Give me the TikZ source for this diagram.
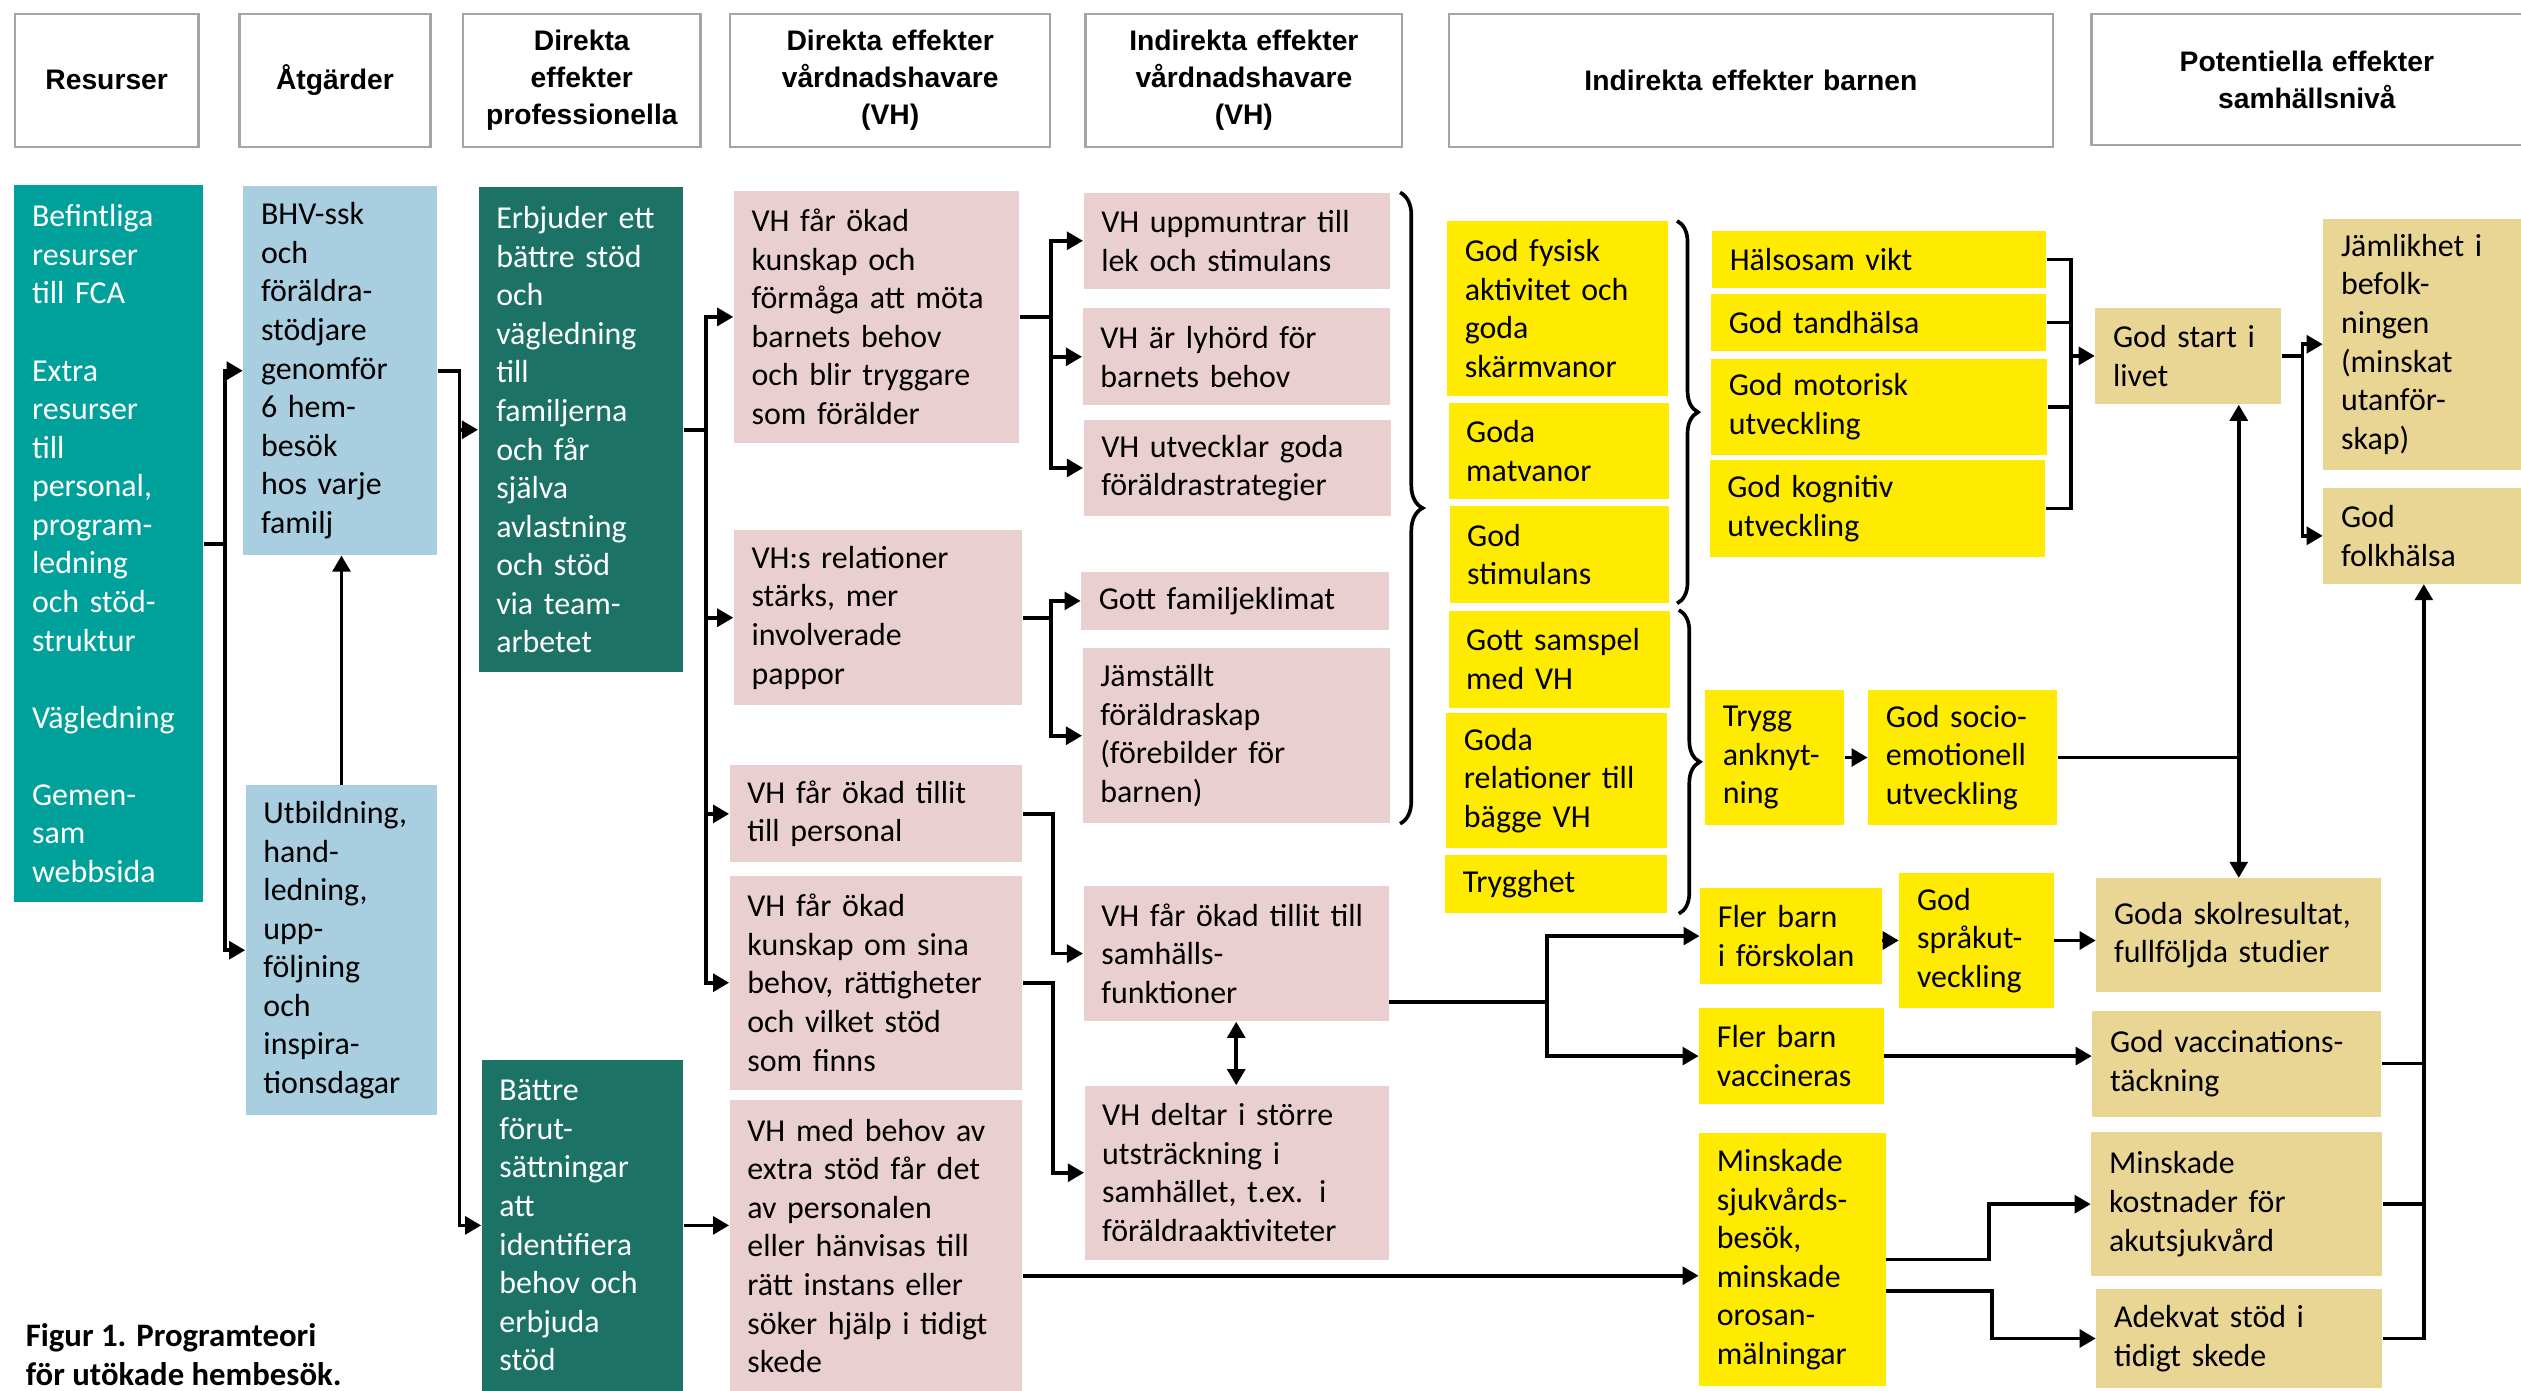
\documentclass[tikz,border=0pt]{standalone}
\usepackage{fontspec}
\setmainfont{Carlito}
\newfontfamily\headfont{Liberation Sans}
\usetikzlibrary{arrows.meta,decorations.pathreplacing}
\definecolor{lagoon}{RGB}{0,161,154}
\definecolor{sky}{RGB}{169,206,224}
\definecolor{pine}{RGB}{27,114,101}
\definecolor{blush}{RGB}{234,207,208}
\definecolor{lemon}{RGB}{255,235,0}
\definecolor{sand}{RGB}{234,214,148}
\definecolor{frame}{RGB}{165,165,165}
\newcommand\bodyfont{\fontsize{11.3pt}{13.65pt}\selectfont}
\hyphenpenalty=10000
\exhyphenpenalty=10000
\tikzset{
  >={Triangle[length=2mm,width=2.2mm]},
  sz/.code 2 args={\pgfmathsetmacro\bw{#1*0.2}\pgfmathsetmacro\bh{#2*0.2}%
    \pgfmathsetmacro\tw{#1*0.2-4.4}%
    \edef\szdo{\noexpand\pgfkeysalso{minimum width=\bw mm,minimum height=\bh mm,text width=\tw mm}}\szdo},
  cell/.style={fill=#1,anchor=north west,inner xsep=2.2mm,inner ysep=0pt,align=left,font=\bodyfont},
  cell/.default=blush,
  dark cell/.style={cell=#1,text=white},
  head/.style={draw=frame,line width=0.8pt,fill=white,anchor=north west,inner xsep=2.2mm,inner ysep=0pt,
    align=center,font=\headfont\bfseries\fontsize{10pt}{13pt}\selectfont},
  flow/.style={->,line width=1.3pt},
  link/.style={line width=1.3pt},
  both/.style={<->,line width=1.3pt},
  grp/.style={decorate,decoration={brace,amplitude=#1},line width=1.3pt},
  grp/.default=2.6mm,
}

\begin{document}
\begin{tikzpicture}[x=0.2mm,y=-0.2mm]
  \useasboundingbox (0,0) rectangle (1568,865);
  % column heads
  \node[head,sz={114.3}{82.6}] (hres) at (8.5,8) {Resurser};
  \node[head,sz={118.8}{82.6}] (hatg) at (148.2,8) {Åtgärder};
  \node[head,sz={147.7}{82.6}] (hprof) at (287.3,8) {Direkta\\effekter\\professionella};
  \node[head,sz={198.9}{82.6}] (hdir) at (453.5,8) {Direkta effekter\\vårdnadshavare\\(VH)};
  \node[head,sz={197.1}{82.6}] (hind) at (674.4,8) {Indirekta effekter\\vårdnadshavare\\(VH)};
  \node[head,sz={375.4}{82.6}] (hbarn) at (900.6,8) {Indirekta effekter barnen};
  \node[head,sz={268}{81.6}] (hpot) at (1300.1,8) {Potentiella effekter\\samhällsnivå};

  % resurser, atgarder, professionella
  \node[dark cell=lagoon,sz={117.6}{446.2}] (res) at (8.6,114.7)
    {Befintliga\\resurser\\till FCA\\[13.65pt]Extra\\resurser\\till\\personal,\\program-\\ledning\\och stöd-\\struktur\\[13.65pt]Vägledning\\[13.65pt]Gemen-\\sam\\webbsida};
  \node[cell=sky,sz={120.6}{229.2}] (bhv) at (151,115.6)
    {BHV-ssk\\och\\föräldra-\\stödjare\\genomför\\6 hem-\\besök\\hos varje\\familj};
  \node[cell=sky,sz={119.1}{205.1}] (utb) at (152.5,488.1)
    {Utbildning,\\hand-\\ledning,\\upp-\\följning\\och\\inspira-\\tionsdagar};
  \node[dark cell=pine,sz={127.3}{301.5}] (erb) at (297.3,116.2)
    {Erbjuder ett\\bättre stöd\\och\\vägledning\\till\\familjerna\\och får\\själva\\avlastning\\och stöd\\via team-\\arbetet};
  \node[dark cell=pine,sz={125.3}{206}] (battre) at (299.3,658.8)
    {Bättre\\förut-\\sättningar\\att\\identifiera\\behov och\\erbjuda\\stöd};

  % direkta effekter VH
  \node[cell,sz={177.6}{156.7}] (kunskap) at (456.1,118.4)
    {VH får ökad\\kunskap och\\förmåga att möta\\barnets behov\\och blir tryggare\\som förälder};
  \node[cell,sz={179.3}{108.7}] (relat) at (456.1,329.5)
    {VH:s relationer\\stärks, mer\\involverade\\pappor};
  \node[cell,sz={181.9}{60.3}] (tillitp) at (453.5,475.7) {VH får ökad tillit\\till personal};
  \node[cell,sz={181.9}{132.9}] (sina) at (453.5,544.4)
    {VH får ökad\\kunskap om sina\\behov, rättigheter\\och vilket stöd\\som finns};
  \node[cell,sz={181.9}{181}] (behov) at (453.5,684.1)
    {VH med behov av\\extra stöd får det\\av personalen\\eller hänvisas till\\rätt instans eller\\söker hjälp i tidigt\\skede};

  % indirekta effekter VH
  \node[cell,sz={190.5}{59.4}] (uppm) at (673.6,119.7) {VH uppmuntrar till\\lek och stimulans};
  \node[cell,sz={191.1}{60.1}] (lyhord) at (673,191.5) {VH är lyhörd för\\barnets behov};
  \node[cell,sz={191.1}{59.8}] (utveckl) at (673.6,260.8) {VH utvecklar goda\\föräldrastrategier};
  \node[cell,sz={191.4}{36.4}] (klimat) at (672.1,355.2) {Gott familjeklimat};
  \node[cell,sz={191.1}{108.7}] (jamst) at (673,402.9)
    {Jämställt\\föräldraskap\\(förebilder för\\barnen)};
  \node[cell,sz={189.9}{84.1}] (samh) at (673.6,550.7) {VH får ökad tillit till\\samhälls-\\funktioner};
  \node[cell,sz={189.3}{108.1}] (deltar) at (674.2,675)
    {VH deltar i större\\utsträckning i\\samhället, t.ex. i\\föräldraaktiviteter};

  % indirekta effekter barnen
  \node[cell=lemon,sz={137.7}{108.5}] (fysisk) at (899.7,137.4) {God fysisk\\aktivitet och\\goda\\skärmvanor};
  \node[cell=lemon,sz={137.3}{59.7}] (matv) at (900.6,250.4) {Goda\\matvanor};
  \node[cell=lemon,sz={136.7}{60}] (stim) at (901.2,314.6) {God\\stimulans};
  \node[cell=lemon,sz={137.9}{60.3}] (samsp) at (900.6,379.4) {Gott samspel\\med VH};
  \node[cell=lemon,sz={137.3}{84.4}] (relvh) at (899.2,442.8) {Goda\\relationer till\\bägge VH};
  \node[cell=lemon,sz={138}{36.4}] (trygghet) at (898.5,531.2) {Trygghet};
  \node[cell=lemon,sz={207.9}{35.3}] (vikt) at (1064.5,143.4) {Hälsosam vikt};
  \node[cell=lemon,sz={208.5}{35.3}] (tand) at (1063.9,182.6) {God tandhälsa};
  \node[cell=lemon,sz={209.1}{60}] (motor) at (1063.9,222.7) {God motorisk\\utveckling};
  \node[cell=lemon,sz={208.8}{60}] (kogn) at (1063,286) {God kognitiv\\utveckling};
  \node[cell=lemon,sz={86.5}{83.8}] (trygg) at (1060.2,428.9) {Trygg\\anknyt-\\ning};
  \node[cell=lemon,sz={117.6}{83.8}] (socio) at (1161.6,428.9) {God socio-\\emotionell\\utveckling};
  \node[cell=lemon,sz={113}{59.9}] (forsk) at (1057.1,551.9) {Fler barn\\i förskolan};
  \node[cell=lemon,sz={96}{84.2}] (sprak) at (1181,542.5) {God\\språkut-\\veckling};
  \node[cell=lemon,sz={114.8}{60}] (vacc) at (1056.5,626.5) {Fler barn\\vaccineras};
  \node[cell=lemon,sz={115.9}{157}] (sjukv) at (1056.5,704.6)
    {Minskade\\sjukvårds-\\besök,\\minskade\\orosan-\\mälningar};

  % samhallsniva
  \node[cell=sand,sz={115.7}{60}] (start) at (1302.9,191) {God start i\\livet};
  \node[cell=sand,sz={125}{155.9}] (jaml) at (1444.7,135.8)
    {Jämlikhet i\\befolk-\\ningen\\(minskat\\utanför-\\skap)};
  \node[cell=sand,sz={125}{59.4}] (folk) at (1444.7,303.2) {God\\folkhälsa};
  \node[cell=sand,sz={177.2}{70.6}] (skol) at (1303.5,546) {Goda skolresultat,\\fullföljda studier};
  \node[cell=sand,sz={179.7}{65.9}] (vaccT) at (1301,628.2) {God vaccinations-\\täckning};
  \node[cell=sand,sz={181}{89.4}] (kostn) at (1300.4,703.9) {Minskade\\kostnader för\\akutsjukvård};
  \node[cell=sand,sz={177.9}{61.1}] (adekv) at (1303.5,801.6) {Adekvat stöd i\\tidigt skede};

  \node[anchor=north west,inner sep=0pt,align=left,font=\bfseries\fontsize{11.6pt}{13.65pt}\selectfont] (fig)
    at (15.7,823) {Figur 1. Programteori\\för utökade hembesök.};

  % braces
  \coordinate (g1) at ([xshift=1.2mm]uppm.north east);
  \coordinate (g2) at ([xshift=1mm]fysisk.north east);
  \coordinate (g3) at ([xshift=1mm]samsp.north east);
  \draw[grp=2.8mm] (g1) -- (g1 |- jamst.south);
  \draw[grp] (g2) -- (g2 |- stim.south);
  \draw[grp] (g3) -- (g3 |- trygghet.south);

  % connectors
  \draw[flow] (res.east) -- ++(13,0) |- (bhv.west);
  \draw[flow] (res.east) -- ++(13,0) |- (utb.west);
  \draw[flow] (utb.north) -- (utb.north |- bhv.south);
  \draw[flow] (bhv.east) -- ++(13.4,0) |- (erb.west);
  \draw[flow] (bhv.east) -- ++(13.4,0) |- (battre.west);
  \foreach \t in {kunskap,relat,tillitp,sina} \draw[flow] (erb.east) -- ++(13.7,0) |- (\t.west);
  \draw[flow] (battre.east) -- (battre.east -| behov.west);
  \foreach \t in {uppm,lyhord,utveckl} \draw[flow] (kunskap.east) -- ++(19.3,0) |- (\t.west);
  \foreach \t in {klimat,jamst} \draw[flow] (relat.east) -- ++(17.6,0) |- (\t.west);
  \draw[flow] (tillitp.east) -- ++(19,0) |- (samh.west);
  \draw[flow] (sina.east) -- ++(19,0) |- (deltar.west);
  \draw[both] (samh.south) -- (samh.south |- deltar.north);
  \foreach \t in {forsk,vacc} \draw[flow] ([yshift=-6mm]samh.east) -- ++(98,0) |- (\t.west);
  \draw[flow] ([yshift=-3.7mm]behov.east) coordinate (b1) -- (b1 -| sjukv.west);
  \draw[flow] (trygg.east) -- (socio.west);
  \coordinate (j1) at (socio.east -| skol.north);
  \draw[link] (socio.east) -- (j1);
  \draw[flow] (j1) -- (skol.north);
  \draw[flow] (j1) -- (j1 |- start.south);
  \draw[flow] (forsk.east |- sprak.west) -- (sprak.west);
  \draw[flow] (sprak.east) -- (sprak.east -| skol.west);
  \draw[flow] (vacc.east) -- (vacc.east -| vaccT.west);
  \draw[flow] (sjukv.east) -- ++(64,0) |- (kostn.west);
  \draw[flow] ([yshift=-3.9mm]sjukv.east) -- ++(66,0) |- (adekv.west);
  \draw[link] (vikt.east) -- ++(15.1,0) coordinate (v1) -- (v1 |- kogn.east) -- (kogn.east);
  \draw[link] (tand.east) -- (tand.east -| v1);
  \draw[link] (motor.east) -- (motor.east -| v1);
  \draw[flow] (v1 |- start.west) -- (start.west);
  \foreach \t in {jaml,folk} \draw[flow] (start.east) -- ++(12.8,0) |- (\t.west);
  \draw[flow] (adekv.east) -| (folk.south);
  \draw[link] (vaccT.east) -- (vaccT.east -| folk.south);
  \draw[link] (kostn.east) -- (kostn.east -| folk.south);
\end{tikzpicture}
\end{document}
